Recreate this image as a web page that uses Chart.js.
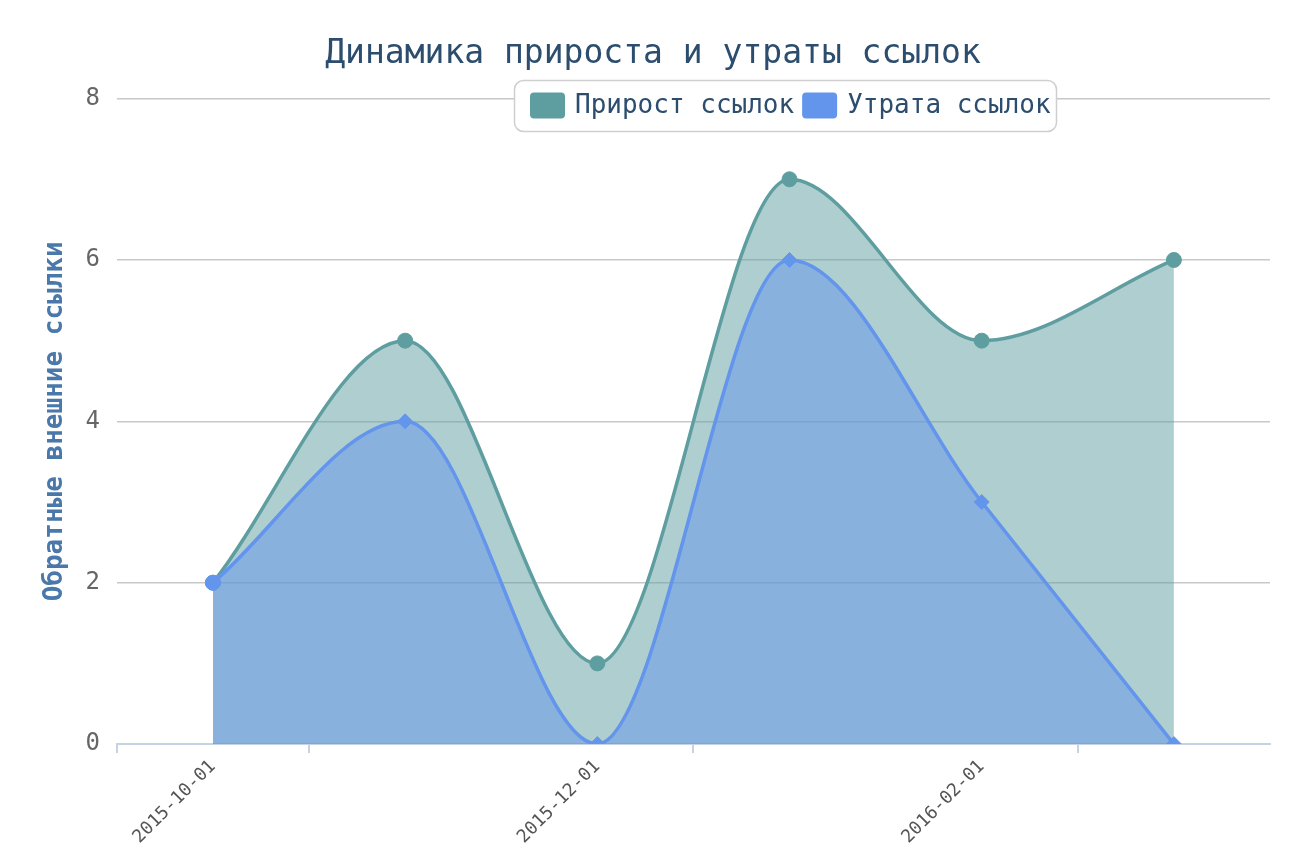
<!DOCTYPE html>
<html>
<head>
<meta charset="utf-8">
<script src="https://cdn.jsdelivr.net/npm/chart.js@4.4.1/dist/chart.umd.min.js"></script>
<style>
html,body{margin:0;padding:0;background:#fff;}
#wrap{width:1293px;height:863px;}
</style>
</head>
<body>
<div id="wrap"><canvas id="c" width="1293" height="863"></canvas></div>
<script>
const categories = ['2015-10-01','2015-11-01','2015-12-01','2016-01-01','2016-02-01','2016-03-01'];
const gainLinks = [2, 5, 1, 7, 5, 6];
const lostLinks = [2, 4, 0, 6, 3, 0];
const seriesNames = ['Прирост ссылок', 'Утрата ссылок'];
const yTicks = [0, 2, 4, 6, 8];
const chartTitle = 'Динамика прироста и утраты ссылок';
const yTitle = 'Обратные внешние ссылки';

const FONT = "'DejaVu Sans Mono', monospace";
const GREEN = '#5f9ea0';
const BLUE = '#6495ed';

const legendPlugin = {
  id: 'boxLegend',
  afterDraw(chart) {
    const ctx = chart.ctx;
    const bx = 514, by = 80, bw = 542, bh = 51;
    ctx.save();
    ctx.beginPath();
    ctx.roundRect(bx + 0.5, by + 0.5, bw, bh, 9);
    ctx.fillStyle = '#fff';
    ctx.fill();
    ctx.strokeStyle = '#cfcfcf';
    ctx.lineWidth = 1.5;
    ctx.stroke();
    ctx.font = '26px ' + FONT;
    ctx.textBaseline = 'middle';
    ctx.textAlign = 'left';
    let x = bx + 16;
    const cy = by + bh / 2;
    chart.data.datasets.forEach((ds) => {
      ctx.beginPath();
      ctx.roundRect(x, cy - 13, 35, 26, 4);
      ctx.fillStyle = ds.borderColor;
      ctx.fill();
      ctx.fillStyle = '#2c4d6e';
      ctx.fillText(ds.label, x + 45, cy + 1);
      x += 45 + ctx.measureText(ds.label).width + 8;
    });
    ctx.restore();
  }
};

const xTickMarks = {
  id: 'xTickMarks',
  afterDatasetsDraw(chart) {
    const xs = chart.scales.x;
    const ctx = chart.ctx;
    const bottom = chart.chartArea.bottom;
    const step = xs.getPixelForValue(1) - xs.getPixelForValue(0);
    const positions = [chart.chartArea.left];
    for (let i = 0; i < categories.length; i += 2) positions.push(xs.getPixelForValue(i) + step / 2);
    ctx.save();
    ctx.strokeStyle = '#c6d3e4';
    ctx.lineWidth = 2;
    positions.forEach(p => {
      ctx.beginPath();
      ctx.moveTo(Math.round(p), bottom);
      ctx.lineTo(Math.round(p), bottom + 9);
      ctx.stroke();
    });
    ctx.restore();
  }
};

new Chart(document.getElementById('c'), {
  type: 'line',
  data: {
    labels: categories,
    datasets: [
      {
        label: seriesNames[0],
        data: gainLinks,
        borderColor: GREEN,
        backgroundColor: 'rgba(95,158,160,0.5)',
        fill: 'origin',
        borderWidth: 3.5,
        pointStyle: 'circle',
        pointRadius: 7.5,
        pointBackgroundColor: GREEN,
        pointBorderColor: GREEN,
        pointBorderWidth: 1,
        cubicInterpolationMode: 'monotone',
        order: 2
      },
      {
        label: seriesNames[1],
        data: lostLinks,
        borderColor: BLUE,
        backgroundColor: 'rgba(100,149,237,0.5)',
        fill: 'origin',
        borderWidth: 3.5,
        pointStyle: ['circle', 'rectRot', 'rectRot', 'rectRot', 'rectRot', 'rectRot'],
        pointRadius: 7.5,
        pointBackgroundColor: BLUE,
        pointBorderColor: BLUE,
        pointBorderWidth: 1,
        cubicInterpolationMode: 'monotone',
        order: 1
      }
    ]
  },
  options: {
    responsive: false,
    animation: false,
    devicePixelRatio: 1,
    layout: { padding: { left: 36, right: 23, top: 0, bottom: 11 } },
    plugins: {
      legend: { display: false },
      tooltip: { enabled: false },
      title: {
        display: true,
        text: chartTitle,
        color: '#2c4d6e',
        font: { family: FONT, size: 33, weight: 'normal' },
        padding: { top: 35, bottom: 24 }
      }
    },
    scales: {
      x: {
        offset: true,
        grid: { display: false },
        border: { display: true, color: '#c6d3e4', width: 2 },
        ticks: {
          autoSkip: false,
          minRotation: 45,
          maxRotation: 45,
          padding: 4,
          color: '#555',
          font: { family: FONT, size: 18 },
          callback: function(v, i) { return i % 2 === 0 ? this.getLabelForValue(v) : ''; }
        }
      },
      y: {
        min: 0,
        max: 8,
        afterBuildTicks: (s) => { s.ticks = yTicks.map(v => ({ value: v })); },
        grid: { color: '#c8c8c8', lineWidth: 1.5, drawTicks: false },
        border: { display: false },
        ticks: {
          padding: 17,
          color: '#666',
          font: { family: FONT, size: 24 }
        },
        title: {
          display: true,
          text: yTitle,
          color: '#4a78aa',
          font: { family: FONT, size: 26, weight: 'bold', lineHeight: 0.9 },
          padding: { top: 8, bottom: 1 }
        }
      }
    }
  },
  plugins: [legendPlugin, xTickMarks]
});
</script>
</body>
</html>
